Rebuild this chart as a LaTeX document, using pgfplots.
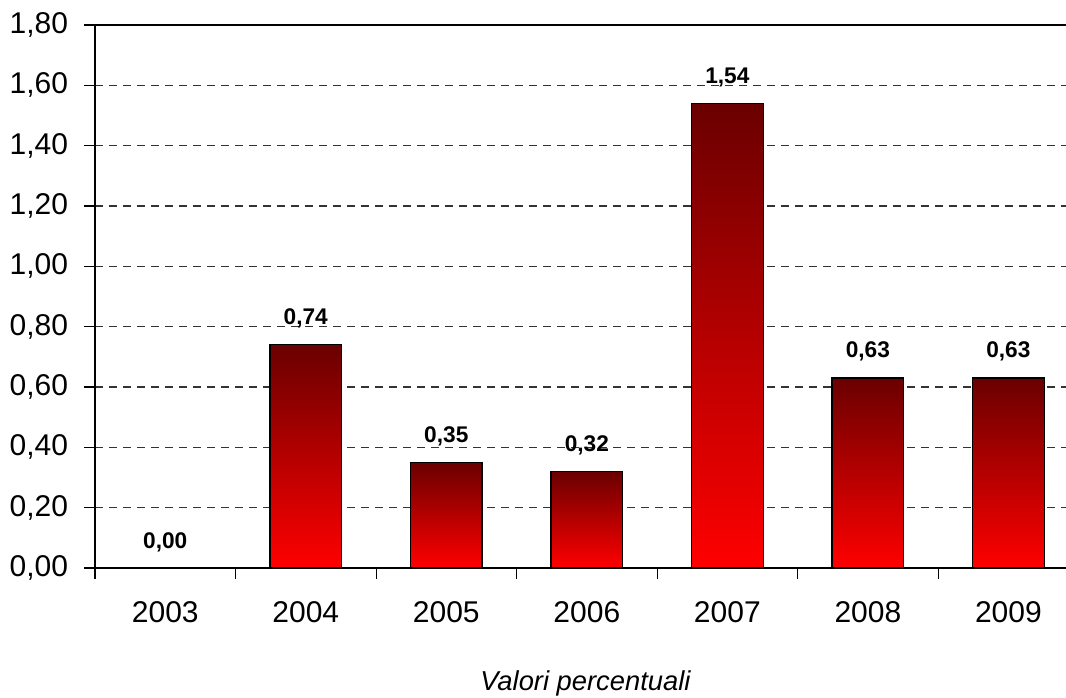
\documentclass[border=0pt]{standalone}
\usepackage{fontspec}
\setmainfont{Liberation Sans}
\usepackage{pgfplots}
\pgfplotsset{compat=1.18}
\pgfplotsset{
  mybar/.style={ybar, bar width=0.51, bar shift=0pt, draw=black, line width=1pt,
    top color={rgb,255:red,106;green,0;blue,0}, bottom color={rgb,255:red,255;green,0;blue,0},
    nodes near coords,
    every node near coord/.append style={anchor=base, yshift=15pt, font=\bfseries\fontsize{17}{20}\selectfont, black}},
}
\begin{document}
\begin{tikzpicture}
\begin{axis}[
  scale only axis,
  width=728.25pt, height=407.25pt,
  xmin=-0.5, xmax=6.41,
  ymin=0, ymax=1.8,
  axis x line*=bottom, axis y line*=left,
  axis line style={black, line width=1.3pt},
  tick align=outside,
  /pgf/number format/assume math mode=true,
  /pgf/number format/.cd, fixed, fixed zerofill, precision=2, use comma,
  /pgfplots/.cd,
  ytick={0,0.2,...,1.81},
  yticklabel style={font=\fontsize{22.5}{26}\selectfont, inner sep=2pt, xshift=-10pt},
  major tick length=8pt,
  tick style={black, line width=0.8pt},
  ymajorgrids,
  major grid style={black!80, line width=0.8pt, dash pattern=on 6pt off 4.5pt},
  xtick={-0.5,0.5,...,5.6},
  xticklabels={},
  extra x ticks={0,1,2,3,4,5,6},
  extra x tick labels={2003,2004,2005,2006,2007,2008,2009},
  extra x tick style={major tick length=0pt, tick style={draw=none}, grid=none,
     xticklabel style={anchor=base, yshift=-40.5pt, font=\fontsize{22.5}{26}\selectfont}},
  xlabel={\itshape Valori percentuali},
  xlabel style={at={(axis description cs:0.505,0)}, anchor=base, yshift=-91.5pt, font=\fontsize{20.5}{24}\selectfont},
  clip=false,
]
\addplot[mybar] coordinates {(0,0)};
\addplot[mybar] coordinates {(1,0.74)};
\addplot[mybar] coordinates {(2,0.35)};
\addplot[mybar] coordinates {(3,0.32)};
\addplot[mybar] coordinates {(4,1.54)};
\addplot[mybar] coordinates {(5,0.63)};
\addplot[mybar] coordinates {(6,0.63)};
\draw[black, line width=1.5pt] (rel axis cs:0,1) -- (rel axis cs:1,1);
\coordinate (bl) at (rel axis cs:0,0);
\coordinate (tr) at (rel axis cs:1,1);
\end{axis}
\pgfresetboundingbox
\path[use as bounding box] ([xshift=-71.25pt,yshift=-96.75pt]bl) rectangle ([yshift=18.75pt]tr);
\end{tikzpicture}
\end{document}
